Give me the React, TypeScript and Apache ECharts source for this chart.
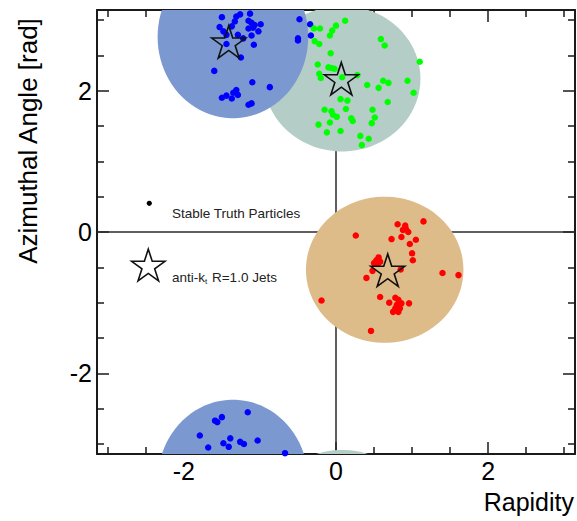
import React, { useEffect, useRef } from "react";
import * as echarts from "echarts";

const PI = Math.PI;

// Tick positions
const majorTicks = [-2, 0, 2];
const minorTicks = [-3, -2.5, -1.5, -1, -0.5, 0.5, 1, 1.5, 2.5, 3];

// Jet areas: [centerRapidity, centerPhi, radiusRapidity, radiusPhi, colourIndex]
const jetAreaGreen = [0.08, 2.17, 1.03, 1.03, 1];
const jetAreaBlue = [-1.355, 2.76, 0.99, 1.15, 0];
const jetAreaOrange = [0.64, -0.534, 1.035, 1.035, 2];

// Jet axes (stars)
const jets = [
  [-1.41, 2.69],
  [0.07, 2.17],
  [0.68, -0.54],
];

// Stable truth particles
const blueParticles = [
  [-1.5, 3.04], [-1.31, 3.05], [-1.26, 3.08], [-1.13, 3.09], [-1.33, 2.98], [-1.53, 2.9],
  [-1.37, 2.91], [-1.15, 2.99], [-1.11, 2.96], [-1.07, 2.93], [-0.99, 2.94], [-1.15, 2.88],
  [-1.09, 2.89], [-1.02, 2.84], [-1.48, 2.84], [-1.44, 2.79], [-1.29, 2.79], [-1.22, 2.74],
  [-1.11, 2.78], [-1.44, 2.66], [-1.08, 2.65], [-1.25, 2.47], [-1.6, 2.28], [-1.1, 2.12],
  [-0.87, 2.05], [-1.31, 2.01], [-1.35, 1.97], [-1.29, 1.94], [-1.44, 1.93], [-1.5, 1.9],
  [-1.37, 1.89], [-1.11, 1.82], [-1.15, 1.8], [-0.48, 3.01], [-0.34, 2.94], [-0.5, 2.74],
  [-0.5, 2.71], [-0.33, 2.78],
  [-1.16, -2.55], [-1.5, -2.62], [-1.59, -2.67], [-1.56, -2.69], [-1.79, -2.88], [-1.39, -2.92],
  [-1.48, -2.99], [-1.26, -2.97], [-1.21, -3.0], [-1.03, -2.95], [-1.68, -3.05], [-1.41, -3.04],
  [-0.67, -3.13],
];

const greenParticles = [
  [0.12, 2.99], [0.0, 2.92], [-0.29, 2.88], [-0.21, 2.88], [-0.05, 2.85], [-0.08, 2.78],
  [-0.28, 2.7], [-0.22, 2.66], [0.59, 2.73], [0.64, 2.64], [-0.07, 2.53], [1.1, 2.41],
  [-0.24, 2.37], [-0.1, 2.33], [-0.06, 2.32], [-0.02, 2.31], [-0.22, 2.24], [-0.2, 2.18],
  [0.08, 2.19], [0.28, 2.22], [0.41, 2.08], [0.56, 2.04], [0.62, 2.14], [0.69, 2.11],
  [0.94, 2.14], [1.02, 1.97], [0.68, 1.84], [0.06, 1.88], [0.15, 1.86], [-0.15, 1.73],
  [-0.06, 1.71], [0.13, 1.74], [-0.04, 1.66], [0.01, 1.63], [0.48, 1.73], [0.51, 1.62],
  [0.2, 1.61], [0.22, 1.57], [-0.08, 1.55], [-0.23, 1.52], [0.47, 1.54], [-0.12, 1.41],
  [0.06, 1.43], [0.32, 1.36], [0.43, 1.32], [0.34, 1.23],
];

const redParticles = [
  [1.15, 0.15], [0.81, 0.11], [0.91, 0.09], [0.92, 0.04], [0.88, 0.03], [0.95, 0.0],
  [0.26, -0.05], [0.86, -0.07], [0.73, -0.1], [1.05, -0.11], [0.97, -0.17], [1.0, -0.3],
  [1.01, -0.4], [0.56, -0.36], [0.53, -0.4], [0.58, -0.42], [0.5, -0.44], [0.55, -0.45],
  [0.48, -0.55], [0.85, -0.53], [0.4, -0.65], [1.4, -0.58], [1.61, -0.61], [-0.19, -0.97],
  [0.58, -0.92], [0.78, -0.93], [0.82, -0.96], [0.7, -1.0], [0.8, -1.03], [0.86, -1.01],
  [0.96, -1.01], [0.78, -1.08], [0.84, -1.08], [0.75, -1.13], [0.82, -1.13], [0.46, -1.4],
];

const areaColors = ["#7b99d0", "#b4cdc6", "#ddbc8a"];
const FONT = "'Liberation Sans', Arial, Helvetica, sans-serif";

function starPath(): string {
  const pts: string[] = [];
  for (let i = 0; i < 10; i++) {
    const a = -PI / 2 + (i * PI) / 5;
    const r = i % 2 === 0 ? 10 : 3.82;
    pts.push(`${(20 + r * Math.cos(a)).toFixed(3)} ${(20 + r * Math.sin(a)).toFixed(3)}`);
  }
  return "path://M" + pts.join(" L") + " Z";
}

function starPoints(cx: number, cy: number, R: number): number[][] {
  const pts: number[][] = [];
  for (let i = 0; i < 10; i++) {
    const a = -PI / 2 + (i * PI) / 5;
    const r = i % 2 === 0 ? R : R * 0.382;
    pts.push([cx + r * Math.cos(a), cy + r * Math.sin(a)]);
  }
  return pts;
}

function axisLine(line: boolean) {
  return line
    ? { show: true, onZero: false, lineStyle: { color: "#1a1a1a", width: 2 } }
    : { show: false, onZero: false };
}

function makeAxis(position: string, major: boolean, labels: boolean, line: boolean, margin: number) {
  return {
    type: "value",
    position,
    min: -PI,
    max: PI,
    axisLine: axisLine(line),
    axisTick: {
      show: true,
      inside: true,
      length: major ? 12 : 7,
      customValues: major ? majorTicks : minorTicks,
      lineStyle: { color: "#1a1a1a", width: 1.5 },
    },
    axisLabel: labels
      ? { show: true, customValues: majorTicks, fontSize: 25, color: "#000", fontFamily: FONT, margin }
      : { show: false },
    splitLine: { show: false },
  };
}

export default function App() {
  const ref = useRef<HTMLDivElement>(null);

  useEffect(() => {
    if (!ref.current) return;
    const chart = echarts.init(ref.current, null, { renderer: "svg" });
    const star = starPath();

    const option: any = {
      animation: false,
      backgroundColor: "#ffffff",
      grid: { left: 97, top: 10, width: 478, height: 444, containLabel: false, outerBoundsMode: "none" },
      xAxis: [
        makeAxis("bottom", true, true, true, 4),
        makeAxis("bottom", false, false, false, 4),
        makeAxis("top", true, false, true, 4),
        makeAxis("top", false, false, false, 4),
      ],
      yAxis: [
        makeAxis("left", true, true, true, 5),
        makeAxis("left", false, false, false, 5),
        makeAxis("right", true, false, true, 5),
        makeAxis("right", false, false, false, 5),
      ],
      series: [
        {
          type: "custom",
          name: "zero lines",
          z: 1,
          silent: true,
          clip: true,
          data: [[0, 0]],
          renderItem: (params: any, api: any) => {
            const cs = params.coordSys;
            const p = api.coord([api.value(0), api.value(1)]);
            const st = { stroke: "#2a2a2a", lineWidth: 1.5 };
            return {
              type: "group",
              children: [
                { type: "line", shape: { x1: cs.x, y1: p[1], x2: cs.x + cs.width, y2: p[1] }, style: st },
                { type: "line", shape: { x1: p[0], y1: cs.y, x2: p[0], y2: cs.y + cs.height }, style: st },
              ],
            };
          },
        },
        {
          type: "custom",
          name: "jet areas",
          z: 2,
          silent: true,
          clip: true,
          data: [jetAreaGreen, jetAreaBlue, jetAreaOrange],
          renderItem: (params: any, api: any) => {
            const cx = api.value(0);
            const cy = api.value(1);
            const rx = api.value(2);
            const ry = api.value(3);
            const ci = api.value(4);
            const children: any[] = [];
            [-2 * PI, 0, 2 * PI].forEach((shift) => {
              const pts: number[][] = [];
              const N = 90;
              for (let i = 0; i < N; i++) {
                const t = (2 * PI * i) / N;
                pts.push(api.coord([cx + rx * Math.cos(t), cy + shift + ry * Math.sin(t)]));
              }
              children.push({ type: "polygon", shape: { points: pts }, style: { fill: areaColors[ci] } });
            });
            return { type: "group", children };
          },
        },
        {
          type: "scatter",
          z: 3,
          data: blueParticles,
          symbol: "circle",
          symbolSize: 6.5,
          itemStyle: { color: "#0000ff", opacity: 1 },
        },
        {
          type: "scatter",
          z: 3,
          data: greenParticles,
          symbol: "circle",
          symbolSize: 6.5,
          itemStyle: { color: "#00ff00", opacity: 1 },
        },
        {
          type: "scatter",
          z: 3,
          data: redParticles,
          symbol: "circle",
          symbolSize: 6.5,
          itemStyle: { color: "#ff0000", opacity: 1 },
        },
        {
          type: "scatter",
          z: 4,
          data: jets,
          symbol: star,
          symbolSize: [34, 32.4],
          itemStyle: { color: "rgba(0,0,0,0)", borderColor: "#111", borderWidth: 1.6, opacity: 1 },
        },
      ],
      graphic: [
        { type: "circle", shape: { cx: 149.3, cy: 203.3, r: 2.6 }, style: { fill: "#000" }, z: 10 },
        {
          type: "text",
          x: 172,
          y: 213,
          z: 10,
          style: {
            text: "Stable Truth Particles",
            fontSize: 13.5,
            fontFamily: FONT,
            fill: "#222",
            align: "left",
            verticalAlign: "middle",
          },
        },
        {
          type: "polygon",
          z: 10,
          shape: { points: starPoints(148.3, 266.7, 17.5) },
          style: { fill: "none", stroke: "#111", lineWidth: 1.6 },
        },
        {
          type: "text",
          x: 172,
          y: 277,
          z: 10,
          style: {
            text: "{a|anti-k}{s|t}{a| R=1.0 Jets}",
            fontFamily: FONT,
            fill: "#222",
            align: "left",
            verticalAlign: "middle",
            rich: {
              a: { fontSize: 13.5, fontFamily: FONT, fill: "#222" },
              s: { fontSize: 8, fontFamily: FONT, fill: "#222", padding: [9, 1, 0, 0] },
            },
          },
        },
        {
          type: "text",
          x: 28,
          y: 141,
          rotation: PI / 2,
          z: 10,
          style: {
            text: "Azimuthal Angle [rad]",
            fontSize: 26,
            fontFamily: FONT,
            fill: "#000",
            align: "center",
            verticalAlign: "middle",
          },
        },
        {
          type: "text",
          x: 574,
          y: 502,
          z: 10,
          style: {
            text: "Rapidity",
            fontSize: 25,
            fontFamily: FONT,
            fill: "#000",
            align: "right",
            verticalAlign: "middle",
          },
        },
      ],
    };

    chart.setOption(option);
    return () => chart.dispose();
  }, []);

  return (
    <div
      ref={ref}
      style={{ position: "fixed", left: 0, top: 0, width: 577, height: 521, background: "#fff" }}
    />
  );
}
